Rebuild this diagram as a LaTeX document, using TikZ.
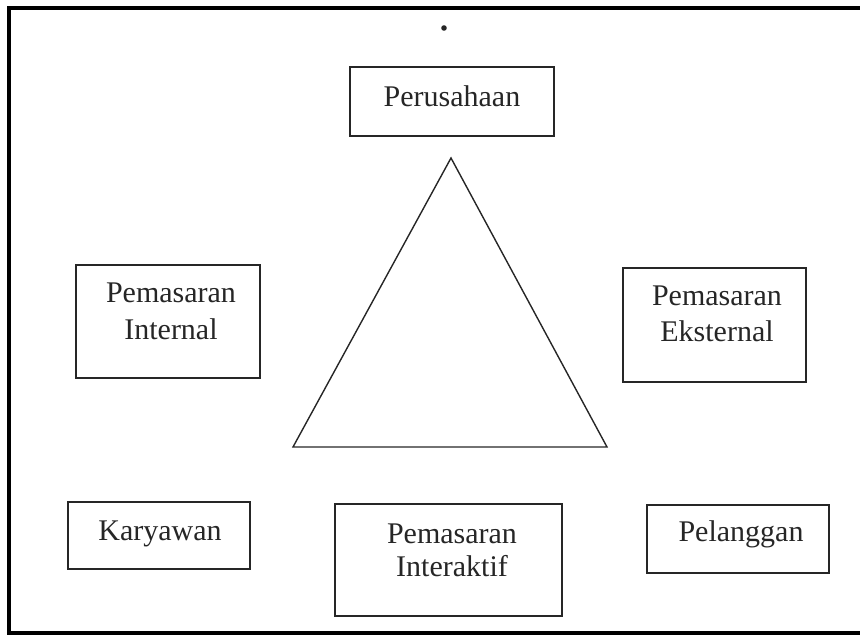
\documentclass[tikz,border=0pt]{standalone}
\usepackage{fontspec}
\setmainfont{Liberation Serif}
\begin{document}
\begin{tikzpicture}[x=1pt,y=-1pt,
  box/.style={draw=black!85, line width=1.7pt},
  lbl/.style={font=\fontsize{30}{36}\selectfont, text=black!85, inner sep=0pt, anchor=base},
  frameline/.style={draw=black, line width=3.2pt},
  tri/.style={draw=black!85, line width=1.4pt}]
\useasboundingbox (0,0) rectangle (860,636);
% outer frame (right side falls outside the picture)
\draw[frameline] (862,8) -- (9,8) -- (9,633) -- (862,633);
% small dot
\fill[black!85] (444,28) circle (2.8);
% boxes
\draw[box] (350,67) rectangle (554,136);
\node[lbl] (perusahaan) at (452,107) {Perusahaan};

\draw[box] (76,265) rectangle (260,378);
\node[lbl] (internal1) at (171,303) {Pemasaran};
\node[lbl] (internal2) at (171,340) {Internal};

\draw[box] (623,268) rectangle (806,382);
\node[lbl] (eksternal1) at (717,306) {Pemasaran};
\node[lbl] (eksternal2) at (717,342) {Eksternal};

\draw[box] (68,502) rectangle (250,569);
\node[lbl] (karyawan) at (160,540) {Karyawan};

\draw[box] (335,504) rectangle (562,616);
\node[lbl] (interaktif1) at (452,543) {Pemasaran};
\node[lbl] (interaktif2) at (452,576) {Interaktif};

\draw[box] (647,505) rectangle (829,573);
\node[lbl] (pelanggan) at (741,541) {Pelanggan};

% triangle
\coordinate (apex) at (451,158);
\coordinate (bl) at (293,447);
\coordinate (br) at (607,447);
\draw[tri, line join=miter] (apex) -- (br) -- (bl) -- cycle;
\end{tikzpicture}
\end{document}
